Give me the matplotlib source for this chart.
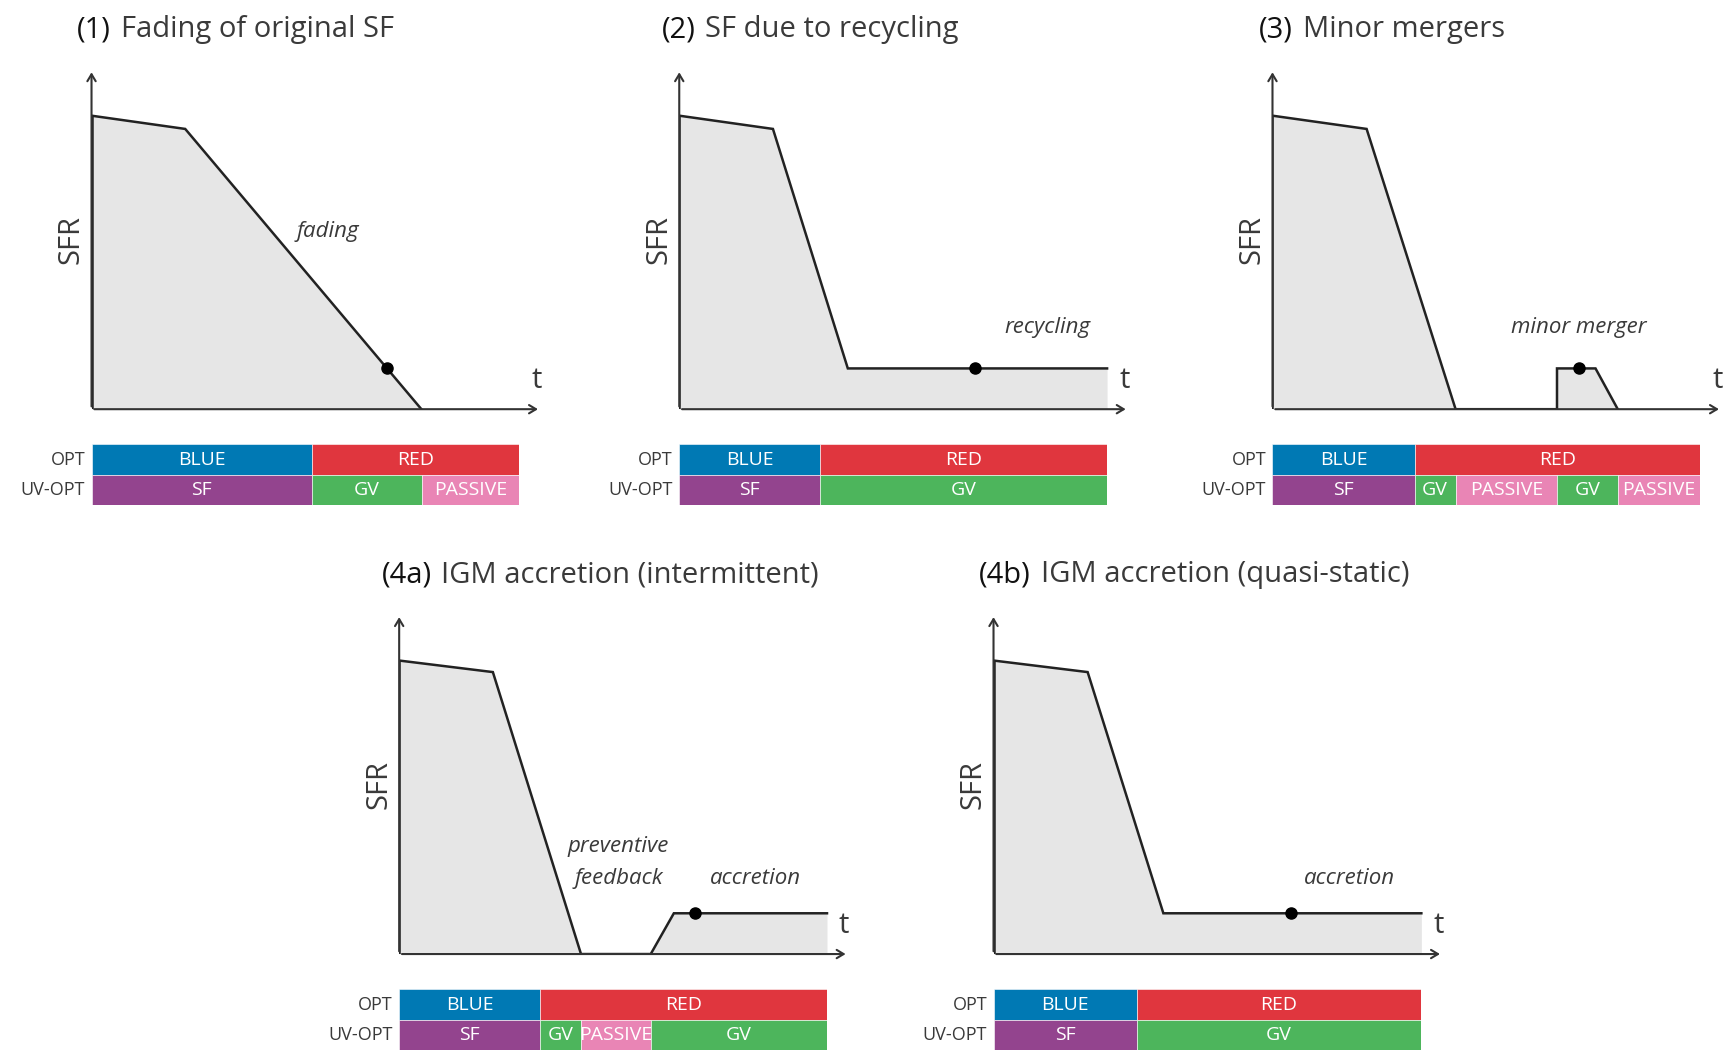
import matplotlib
matplotlib.use("Agg")
import matplotlib.pyplot as plt

plt.rcParams['font.family'] = ['Open Sans', 'DejaVu Sans']

# ---- data (time in arbitrary units 0..10, SFR normalised 0..1) ----
titles = ["Fading of original SF", "SF due to recycling", "Minor mergers",
          "IGM accretion (intermittent)", "IGM accretion (quasi-static)"]
labels = ["(1)", "(2)", "(3)", "(4a)", "(4b)"]

t1 = [0, 2.19, 7.71]
sfr1 = [0.864, 0.825, 0.0]
t2 = [0, 2.19, 3.94, 10.0]
sfr2 = [0.864, 0.825, 0.12, 0.12]
t3 = [0, 2.2, 4.28, 6.65, 6.65, 7.55, 8.07]
sfr3 = [0.864, 0.825, 0.0, 0.0, 0.12, 0.12, 0.0]
t4a = [0, 2.19, 4.25, 5.88, 6.42, 10.0]
sfr4a = [0.864, 0.83, 0.0, 0.0, 0.12, 0.12]
t4b = [0, 2.2, 3.97, 10.0]
sfr4b = [0.864, 0.83, 0.12, 0.12]

dots_t = [6.91, 6.91, 7.16, 6.91, 6.96]
dots_sfr = [0.12, 0.12, 0.12, 0.12, 0.12]

# colour-band segments: (name, start, end)
opt1 = [("BLUE", 0, 5.15), ("RED", 5.15, 10)]
uv1 = [("SF", 0, 5.15), ("GV", 5.15, 7.73), ("PASSIVE", 7.73, 10)]
opt2 = [("BLUE", 0, 3.3), ("RED", 3.3, 10)]
uv2 = [("SF", 0, 3.3), ("GV", 3.3, 10)]
opt3 = [("BLUE", 0, 3.32), ("RED", 3.32, 10)]
uv3 = [("SF", 0, 3.32), ("GV", 3.32, 4.28), ("PASSIVE", 4.28, 6.65),
       ("GV", 6.65, 8.07), ("PASSIVE", 8.07, 10)]
opt4a = [("BLUE", 0, 3.3), ("RED", 3.3, 10)]
uv4a = [("SF", 0, 3.3), ("GV", 3.3, 4.25), ("PASSIVE", 4.25, 5.88), ("GV", 5.88, 10)]
opt4b = [("BLUE", 0, 3.35), ("RED", 3.35, 10)]
uv4b = [("SF", 0, 3.35), ("GV", 3.35, 10)]

notes1 = [("fading", 5.52, 0.523)]
notes2 = [("recycling", 8.61, 0.24)]
notes3 = [("minor merger", 7.16, 0.24)]
notes4a = [("preventive", 5.13, 0.318), ("feedback", 5.13, 0.221), ("accretion", 8.32, 0.221)]
notes4b = [("accretion", 8.32, 0.221)]

colors = {"BLUE": "#0079B4", "RED": "#E0363E", "SF": "#93448E",
          "GV": "#4DB55C", "PASSIVE": "#E985B5"}

panels = [
    (t1, sfr1, opt1, uv1, notes1),
    (t2, sfr2, opt2, uv2, notes2),
    (t3, sfr3, opt3, uv3, notes3),
    (t4a, sfr4a, opt4a, uv4a, notes4a),
    (t4b, sfr4b, opt4b, uv4b, notes4b),
]
# panel origins in reference pixels (1568x952 frame)
origins = [(83, 371), (616, 371), (1154, 371), (362, 865), (901, 865)]
title_dx = [-13, -16, -12, -16, -13]

W, H = 1568.0, 952.0
UNIT = 38.8      # px per time unit
YSPAN = 308.0    # px for SFR = 1

fig = plt.figure(figsize=(17.29, 10.5), dpi=100)
ink = "#222222"
txt = "#3a3a3a"

for i, ((t, s, opt, uv, notes), (ox, oy)) in enumerate(zip(panels, origins)):
    ax = fig.add_axes([ox / W, 1 - oy / H, 10.5 * UNIT / W, YSPAN / H])
    ax.set_xlim(0, 10.5)
    ax.set_ylim(0, 1)
    ax.axis("off")
    ax.fill_between(t, s, 0, color="#E6E6E6", lw=0)
    ax.plot(t, s, color=ink, lw=1.8, solid_joinstyle="miter")
    ax.plot([0, 0], [0, s[0]], color=ink, lw=1.8)
    ax.plot(dots_t[i], dots_sfr[i], "o", color="black", ms=8, zorder=5)
    # axes arrows
    arr = dict(arrowstyle="->,head_length=0.5,head_width=0.3", lw=1.5, color="#333333")
    ax.annotate("", xy=(1, 0), xytext=(0, 0), xycoords="axes fraction", arrowprops=arr)
    ax.annotate("", xy=(0, 1), xytext=(0, 0), xycoords="axes fraction", arrowprops=arr)
    ax.text(10.4, 0.085, "t", fontsize=21, color=txt, ha="center", va="center")
    ax.text(-0.045, 0.5, "SFR", fontsize=21, color=txt, rotation=90,
            ha="center", va="center", transform=ax.transAxes)
    for word, x, y in notes:
        ax.text(x, y, word, fontsize=16, style="italic", color=txt, ha="center", va="center")

    # title
    lab = fig.text((ox + title_dx[i]) / W, 1 - (oy - 344) / H, labels[i],
                   fontsize=21, color="#111111", va="center", ha="left")
    ax.annotate(titles[i], xy=(1, 0.5), xycoords=lab, xytext=(7, 0),
                textcoords="offset points", fontsize=21, color=txt,
                va="center", ha="left", annotation_clip=False)

    # colour bands
    bx = fig.add_axes([ox / W, 1 - (oy + 87) / H, 10 * UNIT / W, 55 / H])
    bx.set_xlim(0, 10)
    bx.set_ylim(0, 2)
    bx.axis("off")
    for row, segs in ((1, opt), (0, uv)):
        for name, a, b in segs:
            bx.barh(row + 0.5, b - a, left=a, height=1, color=colors[name],
                    edgecolor="white", lw=0.4)
            bx.text((a + b) / 2, row + 0.5, name, color="white", fontsize=14,
                    ha="center", va="center")
    bx.text(-0.15, 1.5, "OPT", fontsize=13, color=txt, ha="right", va="center")
    bx.text(-0.15, 0.5, "UV-OPT", fontsize=13, color=txt, ha="right", va="center")

fig.savefig("out.png", dpi=100, facecolor="white")
